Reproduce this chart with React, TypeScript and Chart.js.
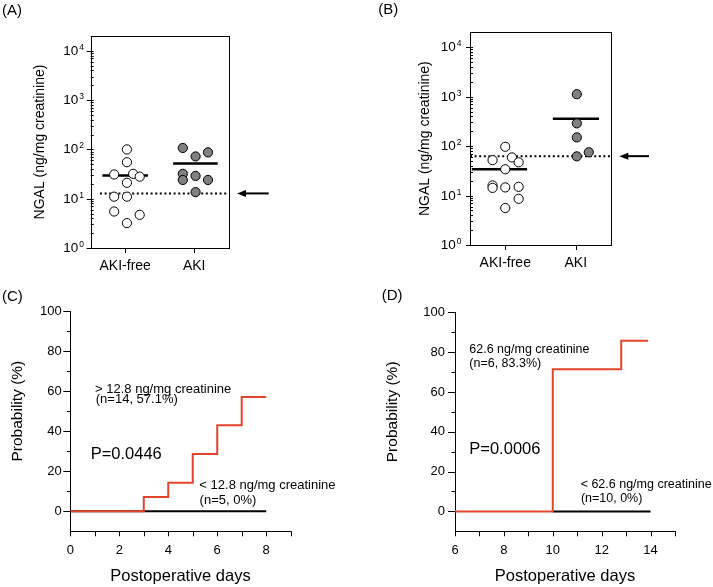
import React, { useEffect, useRef } from 'react';
import { Chart, registerables } from 'chart.js';

Chart.register(...registerables);

const FONT = '"Liberation Sans", Arial, Helvetica, sans-serif';
const RED = '#e2452b';
const GREY = '#808080';

// ---------- Panels A & B: urinary NGAL dot plots ----------
const groupLabels = ['AKI-free', 'AKI'];
const groupPositions = [1, 3];
const logTickValues = [
  1, 2, 3, 4, 5, 6, 7, 8, 9,
  10, 20, 30, 40, 50, 60, 70, 80, 90,
  100, 200, 300, 400, 500, 600, 700, 800, 900,
  1000, 2000, 3000, 4000, 5000, 6000, 7000, 8000, 9000,
  10000, 20000,
];

// Panel A
const aFreeOffsets = [0.05, 0.05, -0.32, 0.23, 0.42, 0.05, -0.32, 0.05, -0.32, 0.42, 0.05];
const aFreeValues = [100, 55, 31, 32, 28, 21, 11, 11, 5.5, 4.7, 3.2];
const aAkiOffsets = [-0.33, 0.04, 0.4, -0.33, 0.04, -0.33, 0.4, 0.04];
const aAkiValues = [107, 72, 87, 32, 29, 24, 24, 13.6];
const aMedians = [29.5, 52];
const aMedianFrom = [-0.66, -0.61];
const aMedianTo = [0.66, 0.68];
const aCutoff = 12.8;

// Panel B
const bFreeOffsets = [0, -0.36, 0.19, 0.38, 0, -0.36, -0.36, 0, 0.38, 0.38, 0];
const bFreeValues = [97, 52, 59, 47, 34, 16, 14.3, 14.6, 15, 8.6, 5.6];
const bAkiOffsets = [0.03, 0.03, 0.03, 0.03, 0.37];
const bAkiValues = [1120, 288, 150, 62, 75];
const bMedians = [34, 357];
const bMedianFrom = [-0.95, -0.65];
const bMedianTo = [0.62, 0.66];
const bCutoff = 62.6;

// ---------- Panels C & D: cumulative probability of AKI ----------
const cDays = [0, 3, 4, 5, 6, 7, 8];
const cHighProb = [0, 7.1, 14.3, 28.6, 42.9, 57.1, 57.1];
const cLowDays = [0, 8];
const cLowProb = [0, 0];
const cXTicks = [0, 1, 2, 3, 4, 5, 6, 7, 8, 9];
const cXLabels = [0, 2, 4, 6, 8];

const dDays = [6, 10, 12.8, 13.9];
const dHighProb = [0, 71.4, 85.7, 85.7];
const dLowDays = [10, 14];
const dLowProb = [0, 0];
const dXTicks = [6, 7, 8, 9, 10, 11, 12, 13, 14, 15];
const dXLabels = [6, 8, 10, 12, 14];

const probTicks = [0, 10, 20, 30, 40, 50, 60, 70, 80, 90, 100];
const probLabels = [0, 20, 40, 60, 80, 100];

function seg(ctx: CanvasRenderingContext2D, x1: number, y1: number, x2: number, y2: number) {
  ctx.beginPath();
  ctx.moveTo(x1, y1);
  ctx.lineTo(x2, y2);
  ctx.stroke();
}

type Box = { left: number; top: number; right: number; bottom: number };

interface DotDef {
  panel: string;
  panelX: number;
  panelY: number;
  width: number;
  height: number;
  area: Box;
  freeOffsets: number[];
  freeValues: number[];
  akiOffsets: number[];
  akiValues: number[];
  medians: number[];
  medianFrom: number[];
  medianTo: number[];
  cutoff: number;
  cutoffStart: number;
  xLabelPad: number;
  yTitlePad: number;
  yLabelGap: number;
  arrowTip: number;
  arrowTail: number;
}

function dotConfig(d: DotDef): any {
  const toPts = (offs: number[], vals: number[], pos: number) =>
    vals.map((v, i) => ({ x: pos + offs[i], y: v }));
  const datasets: any[] = [
    {
      data: toPts(d.freeOffsets, d.freeValues, groupPositions[0]),
      backgroundColor: '#ffffff',
      borderColor: '#000000',
      borderWidth: 1,
      pointRadius: 4.6,
    },
    {
      data: toPts(d.akiOffsets, d.akiValues, groupPositions[1]),
      backgroundColor: GREY,
      borderColor: '#000000',
      borderWidth: 1,
      pointRadius: 4.6,
    },
    ...d.medians.map((m, i) => ({
      data: [
        { x: groupPositions[i] + d.medianFrom[i], y: m },
        { x: groupPositions[i] + d.medianTo[i], y: m },
      ],
      showLine: true,
      borderColor: '#000000',
      borderWidth: 2.5,
      pointRadius: 0,
    })),
    {
      data: [
        { x: d.cutoffStart, y: d.cutoff },
        { x: 4, y: d.cutoff },
      ],
      showLine: true,
      borderColor: '#000000',
      borderWidth: 2,
      borderDash: [2, 2.6],
      pointRadius: 0,
    },
  ];

  const plugin = {
    id: 'dotDecor' + d.panel,
    afterDraw(chart: any) {
      const { ctx, chartArea: ca } = chart;
      const xs = chart.scales.x;
      const ys = chart.scales.y;
      ctx.save();
      ctx.strokeStyle = '#000';
      ctx.fillStyle = '#000';
      ctx.lineWidth = 1;
      ctx.strokeRect(Math.round(ca.left) + 0.5, Math.round(ca.top) + 0.5,
        Math.round(ca.right - ca.left), Math.round(ca.bottom - ca.top));
      // y tick marks + labels
      for (const v of logTickValues) {
        const py = Math.round(ys.getPixelForValue(v)) + 0.5;
        const k = Math.log10(v);
        const major = Math.abs(k - Math.round(k)) < 1e-9;
        seg(ctx, ca.left - (major ? 4 : 0), py, ca.left + 3, py);
        if (major) {
          ctx.textBaseline = 'middle';
          ctx.textAlign = 'right';
          ctx.font = `13.5px ${FONT}`;
          ctx.fillText('10', ca.left - d.yLabelGap, py);
          ctx.textAlign = 'left';
          ctx.font = `8.5px ${FONT}`;
          ctx.fillText(String(Math.round(k)), ca.left - d.yLabelGap + 1, py - 3.5);
        }
      }
      // x tick marks
      for (const p of groupPositions) {
        const px = Math.round(xs.getPixelForValue(p)) + 0.5;
        seg(ctx, px, ca.bottom, px, ca.bottom + 5);
      }
      // cutoff arrow
      const ay = ys.getPixelForValue(d.cutoff);
      ctx.lineWidth = 2;
      seg(ctx, ca.right + d.arrowTail, ay, ca.right + d.arrowTip + 7, ay);
      ctx.beginPath();
      ctx.moveTo(ca.right + d.arrowTip, ay);
      ctx.lineTo(ca.right + d.arrowTip + 9, ay - 3.5);
      ctx.lineTo(ca.right + d.arrowTip + 9, ay + 3.5);
      ctx.closePath();
      ctx.fill();
      // panel label
      ctx.font = `15px ${FONT}`;
      ctx.textAlign = 'left';
      ctx.textBaseline = 'middle';
      ctx.fillText(`(${d.panel})`, d.panelX, d.panelY);
      ctx.restore();
    },
  };

  return {
    type: 'scatter',
    data: { datasets },
    plugins: [plugin],
    options: {
      animation: false,
      responsive: false,
      events: [],
      layout: { padding: { left: 0, top: d.area.top, right: d.width - d.area.right, bottom: 0 } },
      plugins: { legend: { display: false }, tooltip: { enabled: false } },
      scales: {
        x: {
          type: 'linear',
          min: 0,
          max: 4,
          grid: { display: false, drawTicks: false },
          border: { display: false },
          afterBuildTicks: (s: any) => {
            s.ticks = groupPositions.map((v) => ({ value: v }));
          },
          afterFit: (s: any) => {
            s.height = d.height - d.area.bottom;
          },
          ticks: {
            autoSkip: false,
            maxRotation: 0,
            minRotation: 0,
            padding: d.xLabelPad,
            color: '#000',
            font: { family: FONT, size: 14 },
            callback: (v: number) => {
              const i = groupPositions.indexOf(v);
              return i >= 0 ? groupLabels[i] : '';
            },
          },
        },
        y: {
          type: 'logarithmic',
          min: 1,
          max: 20000,
          grid: { display: false, drawTicks: false },
          border: { display: false },
          ticks: { display: false },
          afterBuildTicks: (s: any) => {
            s.ticks = logTickValues.map((v) => ({ value: v }));
          },
          afterFit: (s: any) => {
            s.width = d.area.left;
          },
          title: {
            display: true,
            text: 'NGAL (ng/mg creatinine)',
            color: '#000',
            font: { family: FONT, size: 14 },
            padding: { top: d.yTitlePad, bottom: 0 },
          },
        },
      },
    },
  };
}

type Note = { text: string; x: number; y: number; size: number };

interface KmDef {
  panel: string;
  panelX: number;
  panelY: number;
  width: number;
  height: number;
  area: Box;
  days: number[];
  high: number[];
  lowDays: number[];
  low: number[];
  xMin: number;
  xMax: number;
  xTicks: number[];
  xLabels: number[];
  yLabelPad: number;
  yTitleX: number;
  notes: Note[];
}

function kmConfig(d: KmDef): any {
  const plugin = {
    id: 'kmDecor' + d.panel,
    afterDraw(chart: any) {
      const { ctx, chartArea: ca } = chart;
      const xs = chart.scales.x;
      const ys = chart.scales.y;
      ctx.save();
      ctx.strokeStyle = '#000';
      ctx.fillStyle = '#000';
      ctx.lineWidth = 1;
      for (const v of probTicks) {
        const py = Math.round(ys.getPixelForValue(v)) + 0.5;
        const major = probLabels.includes(v);
        seg(ctx, ca.left - (major ? 7 : 3.5), py, ca.left, py);
      }
      for (const v of d.xTicks) {
        const px = Math.round(xs.getPixelForValue(v)) + 0.5;
        seg(ctx, px, ca.bottom, px, ca.bottom + 5);
      }
      ctx.textAlign = 'left';
      ctx.textBaseline = 'middle';
      for (const n of d.notes) {
        ctx.font = `${n.size}px ${FONT}`;
        ctx.fillText(n.text, xs.getPixelForValue(n.x), ys.getPixelForValue(n.y));
      }
      // y title, centred on the 0-100 range
      ctx.save();
      ctx.translate(d.yTitleX, ys.getPixelForValue(50));
      ctx.rotate(-Math.PI / 2);
      ctx.textAlign = 'center';
      ctx.font = `15.5px ${FONT}`;
      ctx.fillText('Probability (%)', 0, 0);
      ctx.restore();
      ctx.font = `15px ${FONT}`;
      ctx.fillText(`(${d.panel})`, d.panelX, d.panelY);
      ctx.restore();
    },
  };

  return {
    type: 'line',
    data: {
      datasets: [
        {
          data: d.days.map((x, i) => ({ x, y: d.high[i] })),
          borderColor: RED,
          borderWidth: 2,
          stepped: 'before',
          pointRadius: 0,
          fill: false,
        },
        {
          data: d.lowDays.map((x, i) => ({ x, y: d.low[i] })),
          borderColor: '#000000',
          borderWidth: 2,
          pointRadius: 0,
          fill: false,
        },
      ],
    },
    plugins: [plugin],
    options: {
      animation: false,
      responsive: false,
      events: [],
      layout: { padding: { left: 0, top: d.area.top, right: d.width - d.area.right, bottom: 0 } },
      plugins: { legend: { display: false }, tooltip: { enabled: false } },
      scales: {
        x: {
          type: 'linear',
          min: d.xMin,
          max: d.xMax,
          grid: { display: false, drawTicks: false },
          border: { display: true, color: '#000', width: 1 },
          afterBuildTicks: (s: any) => {
            s.ticks = d.xTicks.map((v) => ({ value: v }));
          },
          afterFit: (s: any) => {
            s.height = d.height - d.area.bottom;
          },
          ticks: {
            autoSkip: false,
            maxRotation: 0,
            minRotation: 0,
            padding: 11.5,
            color: '#000',
            font: { family: FONT, size: 13 },
            callback: (v: number) => (d.xLabels.includes(v) ? String(v) : ''),
          },
          title: {
            display: true,
            text: 'Postoperative days',
            color: '#000',
            font: { family: FONT, size: 16.5 },
            padding: { top: 0, bottom: 1 },
          },
        },
        y: {
          type: 'linear',
          min: -10,
          max: 100,
          grid: { display: false, drawTicks: false },
          border: { display: true, color: '#000', width: 1 },
          afterBuildTicks: (s: any) => {
            s.ticks = probTicks.map((v) => ({ value: v }));
          },
          afterFit: (s: any) => {
            s.width = d.area.left;
          },
          ticks: {
            autoSkip: false,
            padding: d.yLabelPad,
            color: '#000',
            font: { family: FONT, size: 13 },
            callback: (v: number) => (probLabels.includes(v) ? String(v) : ''),
          },
        },
      },
    },
  };
}

const panelA: DotDef = {
  panel: 'A', panelX: 2, panelY: 11, width: 300, height: 295,
  area: { left: 90.7, top: 36, right: 228.7, bottom: 248 },
  freeOffsets: aFreeOffsets, freeValues: aFreeValues,
  akiOffsets: aAkiOffsets, akiValues: aAkiValues,
  medians: aMedians, medianFrom: aMedianFrom, medianTo: aMedianTo,
  cutoff: aCutoff, cutoffStart: 0.27,
  xLabelPad: 9.3, yTitlePad: 31.6, yLabelGap: 12.4, arrowTip: 8.3, arrowTail: 40,
};

const panelB: DotDef = {
  panel: 'B', panelX: 18.3, panelY: 10, width: 353, height: 295,
  area: { left: 110, top: 32.3, right: 251, bottom: 245 },
  freeOffsets: bFreeOffsets, freeValues: bFreeValues,
  akiOffsets: bAkiOffsets, akiValues: bAkiValues,
  medians: bMedians, medianFrom: bMedianFrom, medianTo: bMedianTo,
  cutoff: bCutoff, cutoffStart: 0,
  xLabelPad: 9.9, yTitlePad: 56.6, yLabelGap: 14.3, arrowTip: 8.3, arrowTail: 38,
};

const panelC: KmDef = {
  panel: 'C', panelX: 2, panelY: 12, width: 360, height: 302,
  area: { left: 70.3, top: 26, right: 290.7, bottom: 246.3 },
  days: cDays, high: cHighProb, lowDays: cLowDays, low: cLowProb,
  xMin: 0, xMax: 9, xTicks: cXTicks, xLabels: cXLabels,
  yLabelPad: 8.5, yTitleX: 17.5,
  notes: [
    { text: '> 12.8 ng/mg creatinine', x: 1.01, y: 60.8, size: 13 },
    { text: '(n=14, 57.1%)', x: 1.04, y: 55.8, size: 13 },
    { text: 'P=0.0446', x: 0.83, y: 28.3, size: 16.5 },
    { text: '< 12.8 ng/mg creatinine', x: 5.27, y: 13.1, size: 13 },
    { text: '(n=5, 0%)', x: 5.28, y: 5.5, size: 13 },
  ],
};

const panelD: KmDef = {
  panel: 'D', panelX: 21.7, panelY: 11, width: 353, height: 302,
  area: { left: 95, top: 27.3, right: 315, bottom: 246.3 },
  days: dDays, high: dHighProb, lowDays: dLowDays, low: dLowProb,
  xMin: 6, xMax: 15, xTicks: dXTicks, xLabels: dXLabels,
  yLabelPad: 10, yTitleX: 32.3,
  notes: [
    { text: '62.6 ng/mg creatinine', x: 6.585, y: 81.1, size: 12.5 },
    { text: '(n=6, 83.3%)', x: 6.585, y: 74.5, size: 12.5 },
    { text: 'P=0.0006', x: 6.585, y: 31, size: 16.5 },
    { text: '< 62.6 ng/mg creatinine', x: 11.14, y: 13.5, size: 12.5 },
    { text: '(n=10, 0%)', x: 11.15, y: 6.4, size: 12.5 },
  ],
};

function Panel({ left, top, width, height, make }: { left: number; top: number; width: number; height: number; make: () => any }) {
  const ref = useRef<HTMLCanvasElement | null>(null);
  useEffect(() => {
    if (!ref.current) return;
    const chart = new Chart(ref.current, make());
    return () => chart.destroy();
  }, []);
  return (
    <canvas
      ref={ref}
      width={width}
      height={height}
      style={{ position: 'absolute', left, top, width, height, display: 'block' }}
    />
  );
}

export default function App() {
  return (
    <div style={{ position: 'absolute', left: 0, top: 0, width: 713, height: 587, background: '#fff', overflow: 'hidden' }}>
      <Panel left={0} top={0} width={panelA.width} height={panelA.height} make={() => dotConfig(panelA)} />
      <Panel left={360} top={0} width={panelB.width} height={panelB.height} make={() => dotConfig(panelB)} />
      <Panel left={0} top={285} width={panelC.width} height={panelC.height} make={() => kmConfig(panelC)} />
      <Panel left={360} top={285} width={panelD.width} height={panelD.height} make={() => kmConfig(panelD)} />
    </div>
  );
}
